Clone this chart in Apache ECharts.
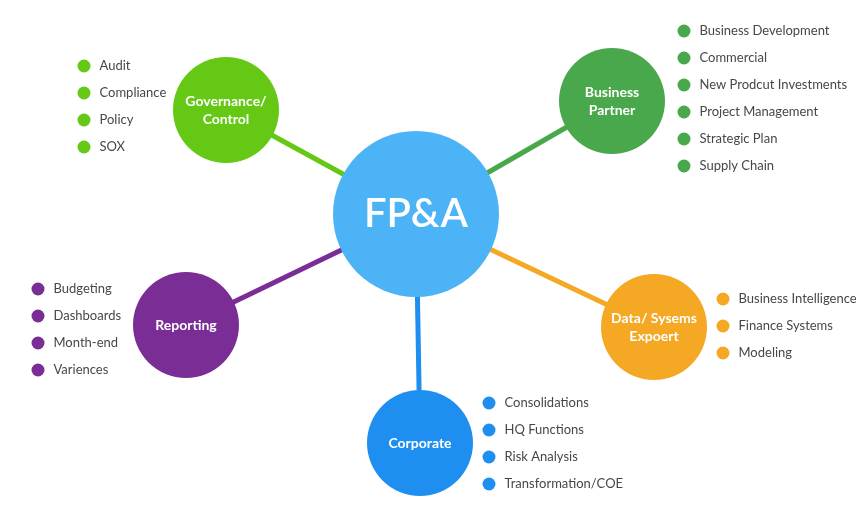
<!DOCTYPE html>
<html>
<head>
<meta charset="utf-8">
<script src="https://cdn.jsdelivr.net/npm/echarts@6/dist/echarts.min.js"></script>
<style>
  html, body { margin: 0; padding: 0; background: #fff; }
  #main { width: 866px; height: 513px; }
</style>
</head>
<body>
<div id="main"></div>
<script>
// hubs: first one is the centre, the rest hang off it
const hubNames = ['FP&A', 'Governance/\nControl', 'Business\nPartner', 'Reporting', 'Data/ Sysems\nExpoert', 'Corporate']
const hubX = [416, 226, 612, 186, 654, 420]
const hubY = [214, 110, 101, 325, 327, 443]
const hubColors = ['#4db3f7', '#64c814', '#4aa84c', '#7b2d96', '#f5a823', '#1e8ff0']

// bullet lists, same order as hubs 1..5
const govItems = ['Audit', 'Compliance', 'Policy', 'SOX']
const bizItems = ['Business Development', 'Commercial', 'New Prodcut Investments', 'Project Management', 'Strategic Plan', 'Supply Chain']
const repItems = ['Budgeting', 'Dashboards', 'Month-end', 'Variences']
const dataItems = ['Business Intelligence', 'Finance Systems', 'Modeling']
const corpItems = ['Consolidations', 'HQ Functions', 'Risk Analysis', 'Transformation/COE']
const lists = [govItems, bizItems, repItems, dataItems, corpItems]

// where each list starts and the row step
const listX = [84, 684, 38, 723, 489]
const listY = [66, 31, 289, 299, 403]
const rowStep = 27

const FONT = 'Lato, "Open Sans", sans-serif'

var chart = echarts.init(document.getElementById('main'))

var nodes = hubNames.map(function (name, i) {
  return {
    name: name,
    value: [hubX[i], hubY[i]],
    symbolSize: i === 0 ? 166 : 106,
    itemStyle: { color: hubColors[i], opacity: 1 },
    label: {
      show: true,
      color: '#fff',
      fontFamily: FONT,
      fontSize: i === 0 ? 40 : 14,
      fontWeight: i === 0 ? 600 : 'bold',
      lineHeight: i === 0 ? 44 : 18
    }
  }
})

var links = hubNames.slice(1).map(function (n, i) {
  return { source: 0, target: i + 1, lineStyle: { color: hubColors[i + 1] } }
})

var bulletSeries = lists.map(function (items, k) {
  return {
    type: 'scatter',
    symbol: 'circle',
    symbolSize: 13,
    silent: true,
    itemStyle: { color: hubColors[k + 1], opacity: 1 },
    label: {
      show: true,
      position: 'right',
      distance: 9,
      formatter: function (p) { return p.data[2] },
      color: '#474747',
      fontFamily: FONT,
      fontSize: 13
    },
    data: items.map(function (t, j) { return [listX[k], listY[k] + j * rowStep, t] })
  }
})

var option = {
  backgroundColor: '#fff',
  animation: false,
  grid: { left: 0, right: 0, top: 0, bottom: 0 },
  xAxis: { type: 'value', min: 0, max: 866, show: false },
  yAxis: { type: 'value', min: 0, max: 513, inverse: true, show: false },
  series: [
    {
      type: 'graph',
      coordinateSystem: 'cartesian2d',
      silent: true,
      data: nodes,
      links: links,
      lineStyle: { width: 5, opacity: 1, curveness: 0 },
      label: { position: 'inside' }
    }
  ].concat(bulletSeries)
}

chart.setOption(option)
</script>
</body>
</html>
